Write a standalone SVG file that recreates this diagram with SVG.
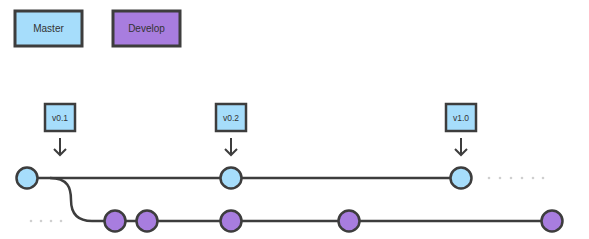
<svg xmlns="http://www.w3.org/2000/svg" width="589" height="239" viewBox="0 0 589 239">
<style>
.box{stroke:#3d3d3d;stroke-width:3}
.blue{fill:#a6ddfb}
.purple{fill:#a87ddf}
.c{stroke:#3d3d3d;stroke-width:2.5}
.line{stroke:#3d3d3d;stroke-width:2.5;fill:none}
.lbl{font-family:"Liberation Sans",Arial,sans-serif;font-size:10px;fill:#333;text-anchor:middle}
.tag{font-family:"Liberation Sans",Arial,sans-serif;font-size:8.5px;fill:#333;text-anchor:middle}
.dot{fill:#cfcfcf}
.arr{stroke:#3d3d3d;stroke-width:2;fill:none}
</style>
<rect width="589" height="239" fill="#fff"/>
<g id="legend-master"><rect class="box blue" x="15" y="11" width="67" height="35"/><text class="lbl" x="48.5" y="32">Master</text></g>
<g id="legend-develop"><rect class="box purple" x="113" y="11" width="67" height="35"/><text class="lbl" x="146.5" y="32">Develop</text></g>
<g id="connectors">
<line class="line" x1="27" y1="178" x2="461" y2="178"/>
<path class="line" d="M50 178 C68 178 71 188 71 200 C71 214 78 221 92 221 L552 221"/>
<path class="arr" d="M60 138 V155 M54 149 L60 155 L66 149"/>
<path class="arr" d="M231 138 V155 M225 149 L231 155 L237 149"/>
<path class="arr" d="M461 138 V155 M455 149 L461 155 L467 149"/>
</g>
<g id="dots">
<circle class="dot" cx="31" cy="221" r="1.3"/><circle class="dot" cx="41" cy="221" r="1.3"/><circle class="dot" cx="51" cy="221" r="1.3"/><circle class="dot" cx="61" cy="221" r="1.3"/>
<circle class="dot" cx="489" cy="178" r="1.3"/><circle class="dot" cx="500" cy="178" r="1.3"/><circle class="dot" cx="511" cy="178" r="1.3"/><circle class="dot" cx="522" cy="178" r="1.3"/><circle class="dot" cx="533" cy="178" r="1.3"/><circle class="dot" cx="543" cy="178" r="1.3"/>
</g>
<g id="tag-v01"><rect class="box blue" x="45" y="104" width="30" height="27" style="stroke-width:2.5"/><text class="tag" x="60" y="120.5">v0.1</text></g>
<g id="tag-v02"><rect class="box blue" x="216" y="104" width="30" height="27" style="stroke-width:2.5"/><text class="tag" x="231" y="120.5">v0.2</text></g>
<g id="tag-v10"><rect class="box blue" x="446" y="104" width="30" height="27" style="stroke-width:2.5"/><text class="tag" x="461" y="120.5">v1.0</text></g>
<g id="m1"><circle class="c blue" cx="27" cy="178" r="10.5"/></g>
<g id="m2"><circle class="c blue" cx="231" cy="178" r="10.5"/></g>
<g id="m3"><circle class="c blue" cx="461" cy="178" r="10.5"/></g>
<g id="d1"><circle class="c purple" cx="115" cy="221" r="10.5"/></g>
<g id="d2"><circle class="c purple" cx="147" cy="221" r="10.5"/></g>
<g id="d3"><circle class="c purple" cx="231" cy="221" r="10.5"/></g>
<g id="d4"><circle class="c purple" cx="349" cy="221" r="10.5"/></g>
<g id="d5"><circle class="c purple" cx="552" cy="221" r="10.5"/></g>
</svg>
